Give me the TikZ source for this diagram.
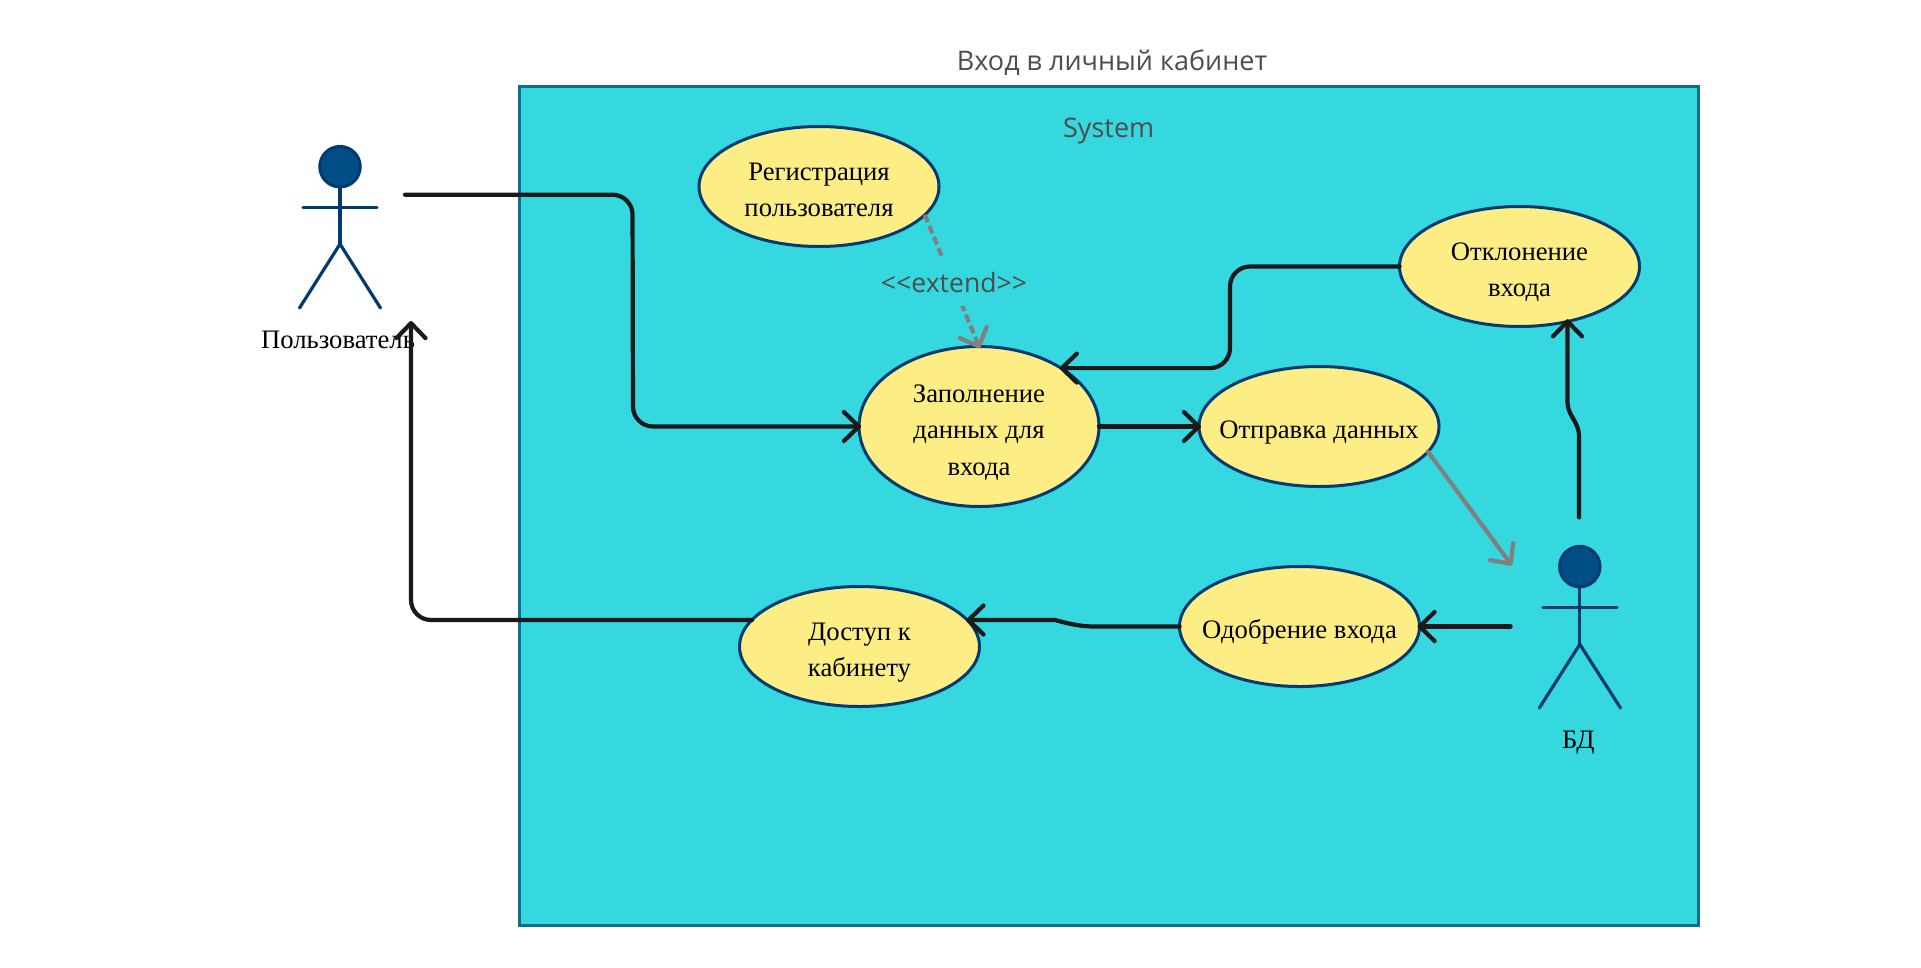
\documentclass[tikz,border=0pt]{standalone}
\usepackage{fontspec}
\setmainfont{Liberation Serif}
\newfontfamily\opensans{Open Sans}
\usetikzlibrary{arrows.meta,shapes.geometric}
\definecolor{sysbg}{HTML}{35D8DF}
\definecolor{sysedge}{HTML}{0F6E8C}
\definecolor{ucfill}{HTML}{FCEE84}
\definecolor{ucedge}{HTML}{003A70}
\definecolor{actorhead}{HTML}{004E85}
\definecolor{conn}{HTML}{1A1A1A}
\definecolor{connb}{HTML}{808080}
\definecolor{titlec}{HTML}{4D4D4D}
\newcommand\uct[1]{\makebox[0pt][c]{\smash{\raisebox{-11pt}{\begin{tabular}{@{}c@{}}#1\end{tabular}}}}}
\tikzset{
  usecase/.style={ellipse,draw=ucedge,fill=ucfill,line width=3pt,minimum width=240pt,minimum height=120pt,inner sep=0pt,outer sep=0pt,text=black,font=\fontsize{26.7}{36.5}\selectfont},
  tall/.style={minimum height=160pt},
  actorline/.style={draw=ucedge,line width=3.2pt,line cap=round},
  actorhd/.style={circle,draw=ucedge,fill=actorhead,line width=3pt,minimum size=40.5pt,inner sep=0pt,outer sep=0pt},
  actorlabel/.style={text=black,inner sep=0pt,font=\fontsize{26.7}{30}\selectfont},
  barb/.style={-{Straight Barb[length=15pt,width=29pt,line width=4.2pt,round]},shorten >=-2pt},
  flow/.style={draw=conn,line width=4.2pt,rounded corners=20pt,line cap=round,barb},
  grayflow/.style={draw=connb,line width=4.2pt,line cap=round,barb},
  dashflow/.style={draw=connb,line width=4.2pt,dash pattern=on 8pt off 4pt,barb},
  caption/.style={text=titlec,inner sep=0pt,font=\opensans\fontsize{27}{30}\selectfont},
  extlabel/.style={text=titlec,inner sep=0pt,font=\opensans\fontsize{26.6}{30}\selectfont},
  extgap/.style={fill=sysbg,inner sep=0pt,minimum height=50pt,minimum width=40pt},
}
\begin{document}
\begin{tikzpicture}[x=1pt,y=-1pt]
\useasboundingbox (0,0) rectangle (1921,967);
\fill[white] (0,0) rectangle (1921,967);
\node[draw=sysedge,fill=sysbg,line width=3pt,minimum width=1179pt,minimum height=839pt,inner sep=0pt,outer sep=0pt,anchor=north west] (sys) at (519,86.5) {};
\node[caption] (title) at (1112,62.5) {Вход в личный кабинет};
\node[caption] (systext) at (1108.7,131) {System};

\node[usecase] (reg) at (819,186.5) {\uct{Регистрация\\пользователя}};
\node[usecase,tall] (zap) at (979,426.5) {\uct{Заполнение\\данных для\\входа}};
\node[usecase] (otk) at (1519.5,266.5) {\uct{Отклонение\\входа}};
\node[usecase] (otp) at (1319,426.5) {\uct{Отправка данных}};
\node[usecase] (odo) at (1299.5,626.5) {\uct{Одобрение входа}};
\node[usecase] (dos) at (859.5,646.5) {\uct{Доступ к\\кабинету}};

% actor: user
\node[actorhd] (uhead) at (340,166.7) {};
\coordinate (uhip) at (340,244);
\draw[actorline] (uhead) -- (uhip);
\draw[actorline] (303,207.3) -- (377,207.3);
\draw[actorline] (299.5,308) -- (uhip) -- (380.5,308);
\node[actorlabel] (ulabel) at (338,340) {Пользователь};

% actor: DB
\node[actorhd] (bhead) at (1579.8,566.6) {};
\coordinate (bhip) at (1579.8,644.3);
\draw[actorline] (bhead) -- (bhip);
\draw[actorline] (1543,607.3) -- (1617,607.3);
\draw[actorline] (1539.3,708) -- (bhip) -- (1620.5,708);
\node[actorlabel] (blabel) at (1578.4,742.5) {БД};

% free ends and waypoints
\coordinate (ufree) at (405,194.7);
\coordinate (bup) at (1579,517.4);
\coordinate (bleft) at (1510.6,626.5);
\coordinate (btip) at (1510.6,563.7);
\coordinate (utip) at (411,323);
\coordinate (lvlz) at (1230,368.1);
\coordinate (lvlo) at (1055,620);
\coordinate (lvlb) at (1567.5,402.7);

\draw[flow] (ufree) -- (632.5,194.7) -- (633,426.5) -- (zap.west);
\draw[flow] (zap.east) -- (otp.west);
\draw[flow] (otk.west) -- (1230,266.5) -- (lvlz) -- (zap.35.5 |- lvlz);
\draw[flow,rounded corners=0pt] (bup) -- (1579,436) .. controls (1579,422) and (1567.5,415) .. (lvlb) -- (lvlb |- otk.-48.9);
\draw[grayflow] (otp.-13.3) -- (btip);
\draw[flow] (bleft) -- (odo.east);
\draw[flow,rounded corners=0pt] (odo.west) -- (1091.7,626.5) .. controls (1078,626) and (1068,623.5) .. (lvlo) -- (dos.13.84 |- lvlo);
\draw[flow] (dos.166.16 |- lvlo) -- (411,620) -- (utip);

\draw[dashflow] (reg.-15.4) -- node[extgap] (gap) {} (zap.90);
\node[extlabel] (ext) at (954,283) {<{}<extend>{}>};
\end{tikzpicture}
\end{document}
